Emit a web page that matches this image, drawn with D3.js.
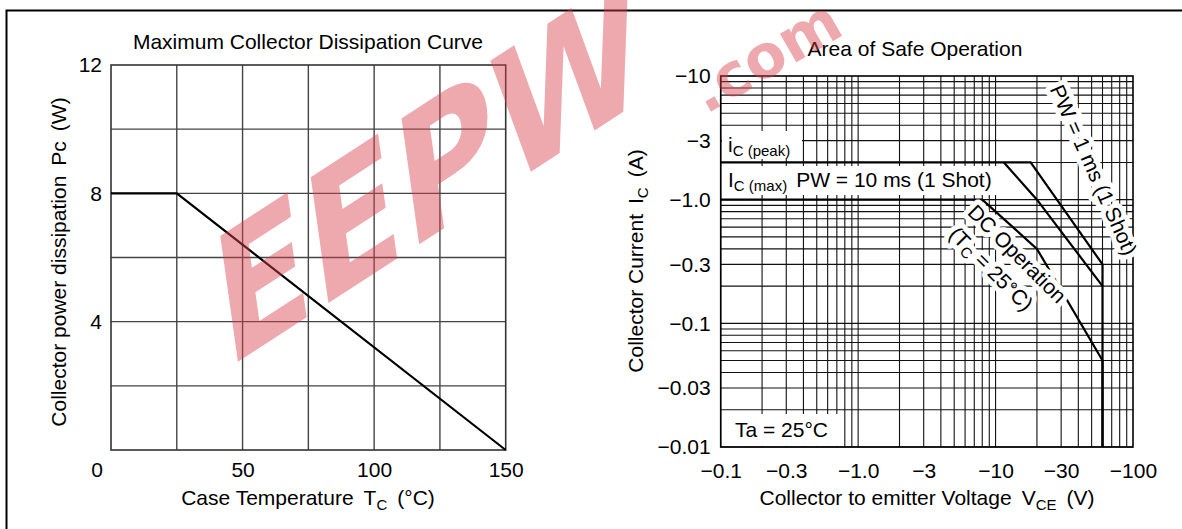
<!DOCTYPE html>
<html>
<head>
<meta charset="utf-8">
<script src="https://cdn.jsdelivr.net/npm/d3@7"></script>
<style>
body { margin: 0; background: #fff; }
svg { font-family: "Liberation Sans", Arial, sans-serif; }
</style>
</head>
<body>
<div id="chart"></div>
<script>
// left chart data
var pcTemp = [0, 25, 150];
var pcPower = [8, 8, 0];
var tempTicks = [0, 50, 100, 150];
var powerTicks = [4, 8, 12];

// right chart data (magnitudes, labels carry the minus sign)
var vceTicks = [0.1, 0.3, 1, 3, 10, 30, 100];
var vceLabels = ["\u22120.1", "\u22120.3", "\u22121.0", "\u22123", "\u221210", "\u221230", "\u2212100"];
var icTicks = [0.01, 0.03, 0.1, 0.3, 1, 3, 10];
var icLabels = ["\u22120.01", "\u22120.03", "\u22120.1", "\u22120.3", "\u22121.0", "\u22123", "\u221210"];
var dcV = [0.1, 8, 20, 60, 60];
var dcI = [1, 1, 0.4, 0.05, 0.01];
var pw10V = [11.5, 20, 60];
var pw10I = [2, 1, 0.2];
var pw1V = [0.1, 18, 60, 60];
var pw1I = [2, 2, 0.3, 0.01];

var w = 1182, h = 529;
var fs = 21, fsSub = 15;
var svg = d3.select("#chart").append("svg").attr("width", w).attr("height", h);

// page frame
svg.append("path").attr("d", "M6.5,529V10.5H1182").attr("fill", "none").attr("stroke", "#000").attr("stroke-width", 2);

// ---------- left chart ----------
var x1 = d3.scaleLinear().domain([0, 150]).range([111, 505.7]);
var y1 = d3.scaleLinear().domain([0, 12]).range([450, 65]);
var g1 = svg.append("g");

g1.selectAll(".vg").data(d3.range(25, 150, 25)).enter().append("line")
  .attr("x1", d => x1(d)).attr("x2", d => x1(d)).attr("y1", y1(0)).attr("y2", y1(12))
  .attr("stroke", "#444").attr("stroke-width", 1.4);
g1.selectAll(".hg").data(d3.range(2, 12, 2)).enter().append("line")
  .attr("x1", x1(0)).attr("x2", x1(150)).attr("y1", d => y1(d)).attr("y2", d => y1(d))
  .attr("stroke", "#444").attr("stroke-width", 1.4);
g1.append("rect").attr("x", x1(0)).attr("y", y1(12)).attr("width", x1(150) - x1(0)).attr("height", y1(0) - y1(12))
  .attr("fill", "none").attr("stroke", "#333").attr("stroke-width", 1.6);

g1.append("path")
  .attr("d", d3.line().x((d, i) => x1(pcTemp[i])).y((d, i) => y1(pcPower[i]))(pcTemp))
  .attr("fill", "none").attr("stroke", "#000").attr("stroke-width", 2.2);

var ax1 = g1.append("g").attr("transform", "translate(0," + y1(0) + ")")
  .call(d3.axisBottom(x1).tickValues(tempTicks.slice(1)).tickSize(0).tickPadding(12));
ax1.select(".domain").remove();
ax1.selectAll("text").attr("font-size", fs).attr("font-family", null).attr("fill", "#000");
var ay1 = g1.append("g").attr("transform", "translate(" + x1(0) + ",0)")
  .call(d3.axisLeft(y1).tickValues(powerTicks).tickSize(0).tickPadding(9));
ay1.select(".domain").remove();
ay1.selectAll("text").attr("font-size", fs).attr("font-family", null).attr("fill", "#000");
g1.append("text").attr("x", 97).attr("y", 477).attr("text-anchor", "middle").attr("font-size", fs).text(tempTicks[0]);

g1.append("text").attr("x", 308).attr("y", 49).attr("text-anchor", "middle").attr("font-size", fs)
  .text("Maximum Collector Dissipation Curve");
var xt1 = g1.append("text").attr("x", 308).attr("y", 505).attr("text-anchor", "middle").attr("font-size", fs);
xt1.append("tspan").text("Case Temperature");
xt1.append("tspan").attr("dx", 10).text("T");
xt1.append("tspan").attr("font-size", fsSub).attr("dy", 5).text("C");
xt1.append("tspan").attr("dy", -5).attr("dx", 10).text("(\u00b0C)");
var yt1 = g1.append("text").attr("transform", "translate(66,262) rotate(-90)").attr("text-anchor", "middle").attr("font-size", fs);
yt1.append("tspan").text("Collector power dissipation");
yt1.append("tspan").attr("dx", 10).text("Pc");
yt1.append("tspan").attr("dx", 10).text("(W)");

// ---------- right chart ----------
var x2 = d3.scaleLog().domain([0.1, 100]).range([720.7, 1133]);
var y2 = d3.scaleLog().domain([0.01, 10]).range([447, 76]);
var g2 = svg.append("g");

function logGrid(lo, hi) {
  var out = [];
  for (var p = lo; p < hi; p++) {
    for (var k = 1; k <= 9; k++) out.push(k * Math.pow(10, p));
  }
  return out;
}
g2.selectAll(".vg").data(logGrid(-1, 2)).enter().append("line")
  .attr("x1", d => x2(d)).attr("x2", d => x2(d)).attr("y1", y2(0.01)).attr("y2", y2(10))
  .attr("stroke", "#111").attr("stroke-width", 1.1);
g2.selectAll(".hg").data(logGrid(-2, 1)).enter().append("line")
  .attr("x1", x2(0.1)).attr("x2", x2(100)).attr("y1", d => y2(d)).attr("y2", d => y2(d))
  .attr("stroke", "#111").attr("stroke-width", 1.1);
g2.append("rect").attr("x", x2(0.1)).attr("y", y2(10)).attr("width", x2(100) - x2(0.1)).attr("height", y2(0.01) - y2(10))
  .attr("fill", "none").attr("stroke", "#000").attr("stroke-width", 1.6);

// label backgrounds
g2.append("rect").attr("x", 722).attr("y", 131).attr("width", 80).attr("height", 28).attr("fill", "#fff");
g2.append("rect").attr("x", 722).attr("y", 166).attr("width", 286).attr("height", 29).attr("fill", "#fff");
g2.append("rect").attr("x", 722).attr("y", 414).attr("width", 116).attr("height", 32).attr("fill", "#fff");

var line2 = function(vs, is) {
  return d3.line().x((d, i) => x2(vs[i])).y((d, i) => y2(is[i]))(vs);
};
[[dcV, dcI], [pw10V, pw10I], [pw1V, pw1I]].forEach(function(s) {
  g2.append("path").attr("d", line2(s[0], s[1])).attr("fill", "none")
    .attr("stroke", "#000").attr("stroke-width", 2.2).attr("stroke-linejoin", "miter");
});

var ax2 = g2.append("g").attr("transform", "translate(0," + y2(0.01) + ")")
  .call(d3.axisBottom(x2).tickValues(vceTicks).tickFormat((d, i) => vceLabels[i]).tickSize(0).tickPadding(16));
ax2.select(".domain").remove();
ax2.selectAll("text").attr("font-size", fs).attr("font-family", null).attr("fill", "#000");
var ay2 = g2.append("g").attr("transform", "translate(" + x2(0.1) + ",0)")
  .call(d3.axisLeft(y2).tickValues(icTicks).tickFormat((d, i) => icLabels[i]).tickSize(0).tickPadding(10));
ay2.select(".domain").remove();
ay2.selectAll("text").attr("font-size", fs).attr("font-family", null).attr("fill", "#000");

g2.append("text").attr("x", 915).attr("y", 56).attr("text-anchor", "middle").attr("font-size", fs)
  .text("Area of Safe Operation");
var xt2 = g2.append("text").attr("x", 927).attr("y", 505).attr("text-anchor", "middle").attr("font-size", fs);
xt2.append("tspan").text("Collector to emitter Voltage");
xt2.append("tspan").attr("dx", 10).text("V");
xt2.append("tspan").attr("font-size", fsSub).attr("dy", 5).text("CE");
xt2.append("tspan").attr("dy", -5).attr("dx", 10).text("(V)");
var yt2 = g2.append("text").attr("transform", "translate(643,261) rotate(-90)").attr("text-anchor", "middle").attr("font-size", fs);
yt2.append("tspan").text("Collector Current");
yt2.append("tspan").attr("dx", 10).text("I");
yt2.append("tspan").attr("font-size", fsSub).attr("dy", 5).text("C");
yt2.append("tspan").attr("dy", -5).attr("dx", 10).text("(A)");

var pk = g2.append("text").attr("x", 728).attr("y", 152).attr("font-size", fs);
pk.append("tspan").text("i");
pk.append("tspan").attr("font-size", fsSub).attr("dy", 4).text("C (peak)");
var mx = g2.append("text").attr("x", 728).attr("y", 187).attr("font-size", fs);
mx.append("tspan").text("I");
mx.append("tspan").attr("font-size", fsSub).attr("dy", 4).text("C (max)");
mx.append("tspan").attr("dy", -4).attr("dx", 9).text("PW = 10 ms (1 Shot)");
g2.append("text").attr("x", 735).attr("y", 437).attr("font-size", fs).text("Ta = 25\u00b0C");

function halo(sel) {
  return sel.attr("stroke", "#fff").attr("stroke-width", 10).attr("stroke-linejoin", "round").attr("paint-order", "stroke");
}
halo(g2.append("text").attr("transform", "translate(1012,259) rotate(45)").attr("text-anchor", "middle").attr("font-size", fs)
  .text("DC Operation"));
var tc = halo(g2.append("text").attr("transform", "translate(986,274) rotate(45)").attr("text-anchor", "middle").attr("font-size", fs));
tc.append("tspan").text("(T");
tc.append("tspan").attr("font-size", fsSub).attr("dy", 4).text("C");
tc.append("tspan").attr("dy", -4).text(" = 25\u00b0C)");
halo(g2.append("text").attr("transform", "translate(1087,173) rotate(66)").attr("text-anchor", "middle").attr("font-size", fs)
  .text("PW = 1 ms (1 Shot)"));

// watermark
var wm = svg.append("g").attr("fill", "#d8404c").attr("fill-opacity", 0.45).attr("font-weight", 900)
  .attr("font-family", "'DejaVu Sans', sans-serif");
wm.append("text").attr("transform", "translate(438,232) rotate(-33) skewX(-25)").attr("text-anchor", "middle")
  .attr("font-size", 158).text("EEPW");
wm.append("text").attr("transform", "translate(776,74) rotate(-30)").attr("text-anchor", "middle")
  .attr("font-size", 60).text(".com");
</script>
</body>
</html>
